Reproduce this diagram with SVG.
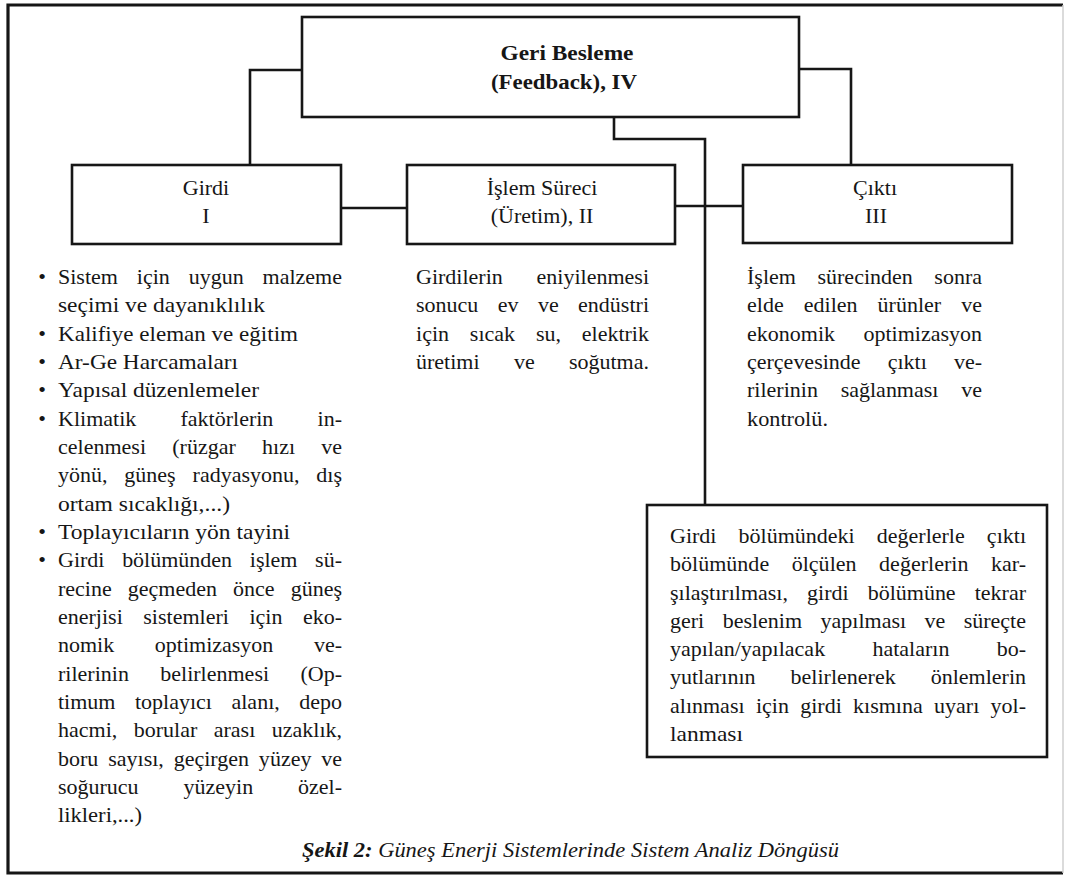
<svg xmlns="http://www.w3.org/2000/svg" width="1068" height="878" viewBox="0 0 1068 878">
<style>
.t{font-family:"Liberation Serif","Times New Roman",serif;font-size:22px;fill:#161616}
.c{text-anchor:middle}
.b{font-weight:bold}
.box{fill:#fff;stroke:#161616;stroke-width:2.6}
.conn{fill:none;stroke:#161616;stroke-width:2.6}
.frame{fill:none;stroke:#161616;stroke-width:3.2}
</style>
<rect width="1068" height="878" fill="#fff"/>
<g id="frame">
<path class="frame" d="M1063,5 H8 V873 H1063"/>
<path d="M1063,5 V873" fill="none" stroke="#cfcfcf" stroke-width="1.5"/>
</g>
<g id="connectors">
<path class="conn" d="M302,70 H250 V165"/>
<path class="conn" d="M799,69 H851 V165"/>
<path class="conn" d="M341,208 H407"/>
<path class="conn" d="M675,206 H743"/>
<path class="conn" d="M614,117 V139 H705 V505"/>
</g>
<g id="node-feedback">
<rect class="box" x="302" y="17" width="497" height="100"/>
<text class="t c b" x="567" y="60" textLength="133" lengthAdjust="spacingAndGlyphs">Geri Besleme</text>
<text class="t c b" x="564" y="89" textLength="146" lengthAdjust="spacingAndGlyphs">(Feedback), IV</text>
</g>
<g id="node-girdi">
<rect class="box" x="72" y="165" width="269" height="79"/>
<text class="t c" x="206" y="195">Girdi</text>
<text class="t c" x="206" y="223">I</text>
</g>
<g id="node-islem">
<rect class="box" x="407" y="165" width="268" height="79"/>
<text class="t c" x="542" y="195">İşlem Süreci</text>
<text class="t c" x="542" y="223">(Üretim), II</text>
</g>
<g id="node-cikti">
<rect class="box" x="743" y="165" width="269" height="78"/>
<text class="t c" x="875" y="195">Çıktı</text>
<text class="t c" x="876" y="223">III</text>
</g>
<g id="text-girdi">
<text class="t c" x="42" y="284">•</text>
<text class="t c" x="42" y="340.7">•</text>
<text class="t c" x="42" y="369">•</text>
<text class="t c" x="42" y="397.3">•</text>
<text class="t c" x="42" y="425.7">•</text>
<text class="t c" x="42" y="539">•</text>
<text class="t c" x="42" y="567.3">•</text>
<text class="t" x="58" y="284" word-spacing="13.4" textLength="284" lengthAdjust="spacing">Sistem için uygun malzeme</text>
<text class="t" x="58" y="312.3" textLength="207" lengthAdjust="spacingAndGlyphs">seçimi ve dayanıklılık</text>
<text class="t" x="58" y="340.7" textLength="240" lengthAdjust="spacingAndGlyphs">Kalifiye eleman ve eğitim</text>
<text class="t" x="58" y="369" textLength="180" lengthAdjust="spacingAndGlyphs">Ar-Ge Harcamaları</text>
<text class="t" x="58" y="397.3" textLength="201" lengthAdjust="spacingAndGlyphs">Yapısal düzenlemeler</text>
<text class="t" x="58" y="425.7" word-spacing="38.7" textLength="284" lengthAdjust="spacing">Klimatik faktörlerin in-</text>
<text class="t" x="58" y="454" word-spacing="20.7" textLength="284" lengthAdjust="spacing">celenmesi (rüzgar hızı ve</text>
<text class="t" x="58" y="482.3" word-spacing="11.4" textLength="284" lengthAdjust="spacing">yönü, güneş radyasyonu, dış</text>
<text class="t" x="58" y="510.7" textLength="172" lengthAdjust="spacingAndGlyphs">ortam sıcaklığı,...)</text>
<text class="t" x="58" y="539" textLength="232" lengthAdjust="spacingAndGlyphs">Toplayıcıların yön tayini</text>
<text class="t" x="58" y="567.3" word-spacing="12.2" textLength="284" lengthAdjust="spacing">Girdi bölümünden işlem sü-</text>
<text class="t" x="58" y="595.7" word-spacing="10.6" textLength="284" lengthAdjust="spacing">recine geçmeden önce güneş</text>
<text class="t" x="58" y="624" word-spacing="15" textLength="284" lengthAdjust="spacing">enerjisi sistemleri için eko-</text>
<text class="t" x="58" y="652.3" word-spacing="35.1" textLength="284" lengthAdjust="spacing">nomik optimizasyon ve-</text>
<text class="t" x="58" y="680.7" word-spacing="25.9" textLength="284" lengthAdjust="spacing">rilerinin belirlenmesi (Op-</text>
<text class="t" x="58" y="709" word-spacing="14" textLength="284" lengthAdjust="spacing">timum toplayıcı alanı, depo</text>
<text class="t" x="58" y="737.3" word-spacing="11" textLength="284" lengthAdjust="spacing">hacmi, borular arası uzaklık,</text>
<text class="t" x="58" y="765.7" word-spacing="4.25" textLength="284" lengthAdjust="spacing">boru sayısı, geçirgen yüzey ve</text>
<text class="t" x="58" y="794" word-spacing="39.4" textLength="284" lengthAdjust="spacing">soğurucu yüzeyin özel-</text>
<text class="t" x="58" y="822.3" textLength="84" lengthAdjust="spacingAndGlyphs">likleri,...)</text>
</g>
<g id="text-islem">
<text class="t" x="416" y="284" word-spacing="28.3" textLength="233" lengthAdjust="spacing">Girdilerin eniyilenmesi</text>
<text class="t" x="416" y="312.3" word-spacing="13.9" textLength="233" lengthAdjust="spacing">sonucu ev ve endüstri</text>
<text class="t" x="416" y="340.7" word-spacing="15.3" textLength="233" lengthAdjust="spacing">için sıcak su, elektrik</text>
<text class="t" x="416" y="369" word-spacing="28.8" textLength="233" lengthAdjust="spacing">üretimi ve soğutma.</text>
</g>
<g id="text-cikti">
<text class="t" x="747" y="284" word-spacing="16.1" textLength="235" lengthAdjust="spacing">İşlem sürecinden sonra</text>
<text class="t" x="747" y="312.3" word-spacing="14.6" textLength="235" lengthAdjust="spacing">elde edilen ürünler ve</text>
<text class="t" x="747" y="340.7" word-spacing="22.9" textLength="235" lengthAdjust="spacing">ekonomik optimizasyon</text>
<text class="t" x="747" y="369" word-spacing="21.6" textLength="235" lengthAdjust="spacing">çerçevesinde çıktı ve-</text>
<text class="t" x="747" y="397.3" word-spacing="17.3" textLength="235" lengthAdjust="spacing">rilerinin sağlanması ve</text>
<text class="t" x="747" y="425.7" textLength="81" lengthAdjust="spacingAndGlyphs">kontrolü.</text>
</g>
<g id="node-note">
<rect class="box" x="647" y="505" width="400" height="252"/>
<text class="t" x="670" y="543" word-spacing="16.6" textLength="356" lengthAdjust="spacing">Girdi bölümündeki değerlerle çıktı</text>
<text class="t" x="670" y="571.3" word-spacing="17" textLength="356" lengthAdjust="spacing">bölümünde ölçülen değerlerin kar-</text>
<text class="t" x="670" y="599.5" word-spacing="13.6" textLength="356" lengthAdjust="spacing">şılaştırılması, girdi bölümüne tekrar</text>
<text class="t" x="670" y="627.8" word-spacing="12.9" textLength="356" lengthAdjust="spacing">geri beslenim yapılması ve süreçte</text>
<text class="t" x="670" y="656" word-spacing="41.8" textLength="356" lengthAdjust="spacing">yapılan/yapılacak hataların bo-</text>
<text class="t" x="670" y="684.3" word-spacing="29.5" textLength="356" lengthAdjust="spacing">yutlarının belirlenerek önlemlerin</text>
<text class="t" x="670" y="712.5" word-spacing="5.8" textLength="356" lengthAdjust="spacing">alınması için girdi kısmına uyarı yol-</text>
<text class="t" x="670" y="740.8" textLength="73" lengthAdjust="spacingAndGlyphs">lanması</text>
</g>
<g id="caption">
<text class="t" x="302" y="857" font-style="italic" textLength="537" lengthAdjust="spacingAndGlyphs"><tspan font-weight="bold">Şekil 2:</tspan> Güneş Enerji Sistemlerinde Sistem Analiz Döngüsü</text>
</g>
</svg>
